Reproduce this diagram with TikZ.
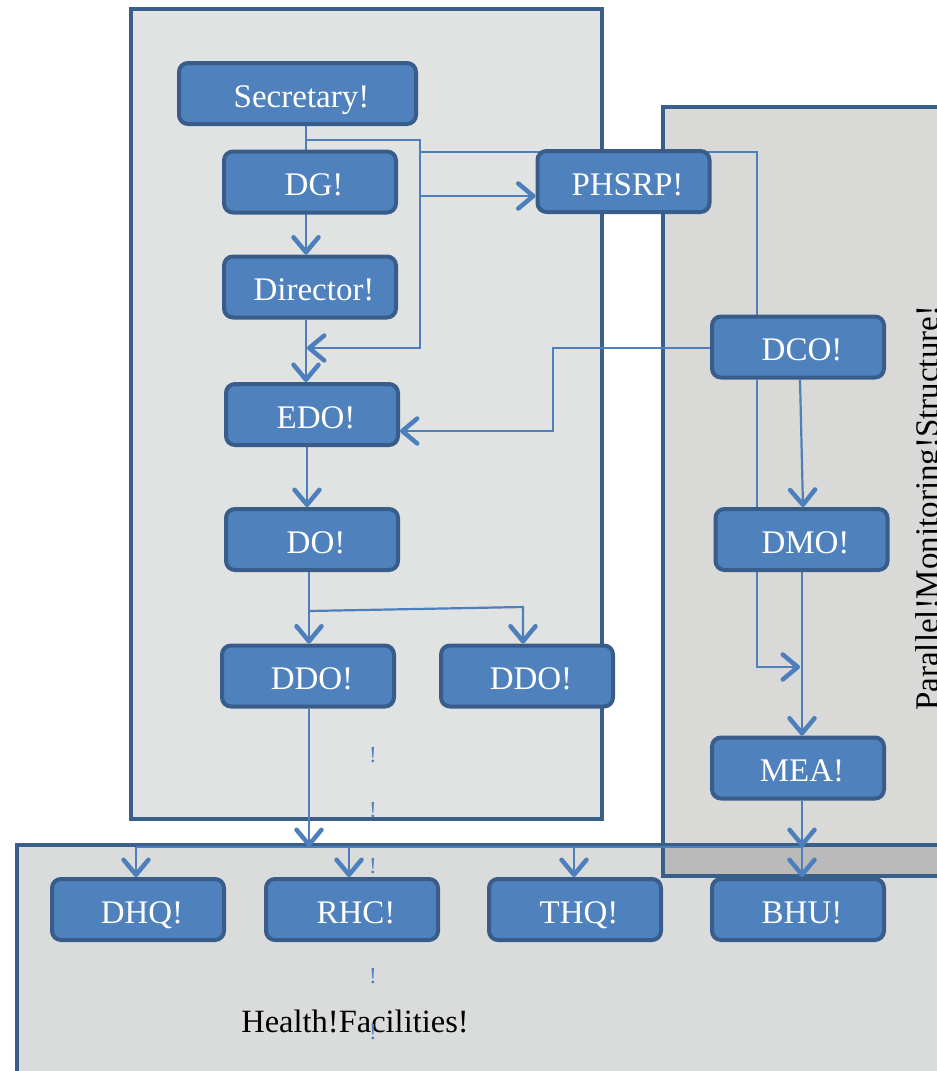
\documentclass[tikz,border=0pt]{standalone}
\usepackage{fontspec}
\setmainfont{Liberation Serif}
\usetikzlibrary{arrows.meta,calc}
\definecolor{nodef}{RGB}{79,129,189}
\definecolor{nodeb}{RGB}{56,93,138}
\definecolor{panelb}{RGB}{58,95,139}
\definecolor{leftf}{RGB}{225,227,227}
\definecolor{rightf}{RGB}{217,217,216}
\definecolor{botf}{RGB}{218,219,219}
\definecolor{overf}{RGB}{186,186,186}
\definecolor{conncol}{RGB}{76,127,188}
\pgfdeclarelayer{bg}
\pgfdeclarelayer{lines}
\pgfsetlayers{bg,lines,main}
\tikzset{
  box/.style={draw=nodeb, fill=nodef, line width=4pt, rounded corners=9pt,
    minimum width=172pt, minimum height=61pt, inner sep=0pt, text=white,
    font=\fontsize{33}{33}\selectfont, text height=27pt, text depth=0pt,
    execute at begin node={\hspace*{8pt}}},
  conn/.style={draw=conncol, line width=2.2pt},
  arr/.style={-{Straight Barb[length=15pt,width=25pt,line width=4.5pt,round]}},
  panel/.style={draw=panelb, line width=4pt},
  bang/.style={text=conncol, font=\fontsize{23}{23}\selectfont, inner sep=0pt},
}
\begin{document}
\begin{tikzpicture}[x=1pt,y=-1pt]
\useasboundingbox (0,0) rectangle (937,1071);
\clip (0,0) rectangle (937,1071);

% panels
\begin{pgfonlayer}{bg}
\fill[botf] (17,845) rectangle (960,1100);
\fill[rightf] (662.5,107) rectangle (960,876);
\fill[overf] (662.5,845) rectangle (960,876);
\draw[panel] (960,845) -- (17,845) -- (17,1100);
\draw[panel] (960,107) -- (662.5,107) -- (662.5,876) -- (960,876);
\filldraw[panel, fill=leftf] (131,8.5) rectangle (602,819);
\end{pgfonlayer}

% nodes
\node[box, minimum width=237pt] (sec) at (297.5,93.5) {Secretary!};
\node[box] (dg) at (310,182) {DG!};
\node[box] (dir) at (310,287) {Director!};
\node[box] (edo) at (312,414.5) {EDO!};
\node[box] (do) at (312,539.5) {DO!};
\node[box] (ddoa) at (308,676) {DDO!};
\node[box] (ddob) at (527,676) {DDO!};
\node[box] (phsrp) at (623.5,181.5) {PHSRP!};
\node[box] (dco) at (798,347) {DCO!};
\node[box] (dmo) at (801.5,539.5) {DMO!};
\node[box] (mea) at (798,768) {MEA!};
\node[box] (dhq) at (138,909.5) {DHQ!};
\node[box] (rhc) at (352,909.5) {RHC!};
\node[box] (thq) at (575,909.5) {THQ!};
\node[box] (bhu) at (798,909.5) {BHU!};

% junction coordinates
\coordinate (a1) at (306,140);
\coordinate (a2) at (420,140);
\coordinate (a3) at (420,348);
\coordinate (a4) at (307,348);
\coordinate (a5) at (420,196);
\coordinate (a6) at (420,152);
\coordinate (a7) at (757,152);
\coordinate (b1) at (309,611);
\coordinate (b2) at (523,607);
\coordinate (c1) at (136,847);
\coordinate (cR) at (349,847);
\coordinate (cT) at (574,847);
\coordinate (c2) at (802,847);
\coordinate (d1) at (553,348);
\coordinate (d2) at (553,431);
\coordinate (e1) at (757,667);
\coordinate (e2) at (800,667);

\begin{pgfonlayer}{lines}
\draw[conn,arr] (sec.south -| a1) -- (dir.north -| a1);
\draw[conn,arr] (a1) -- (a2) -- (a3) -- (a4);
\draw[conn,arr] (a5) -- (a5 -| phsrp.west);
\draw[conn] (a6) -- (a7) -- (a7 |- dco.north);
\draw[conn,arr] (dir.south -| a1) -- (edo.north -| a1);
\draw[conn,arr] (edo.south -| a4) -- (do.north -| a4);
\draw[conn] (do.south -| b1) -- (b1);
\draw[conn,arr] (b1) -- (ddoa.north -| b1);
\draw[conn,arr] (b1) -- (b2) -- (ddob.north -| b2);
\draw[conn,arr] (ddoa.south -| b1) -- (b1 |- c1);
\draw[conn] (c1) -- (c2);
\draw[conn,arr] (c1) -- (c1 |- dhq.north);
\draw[conn,arr] (cR) -- (cR |- rhc.north);
\draw[conn,arr] (cT) -- (cT |- thq.north);
\draw[conn,arr] (c2) -- (c2 |- bhu.north);
\draw[conn,arr] (mea.south -| c2) -- (c2);
\draw[conn,arr] (dco.west |- d1) -- (d1) -- (d2) -- (d2 -| edo.east);
\draw[conn,arr] ([xshift=2pt]dco.south) -- ([xshift=1.5pt]dmo.north);
\draw[conn,arr] (dco.south -| e1) -- (e1) -- (e2);
\draw[conn,arr] (dmo.south -| c2) -- (mea.north -| c2);
\end{pgfonlayer}

% texts
\node[bang] (m1) at (373,755) {!};
\node[bang] (m2) at (373,810) {!};
\node[bang] (m3) at (373,866) {!};
\node[bang] (m4) at (373,976) {!};
\node[font=\fontsize{32.5}{32.5}\selectfont, anchor=base, inner sep=0pt] (hf) at (355,1032) {Health!Facilities!};
\node[bang] (m5) at (373,1032) {!};
\node[font=\fontsize{33}{33}\selectfont, rotate=90, anchor=base west, inner sep=0pt] (pms) at (938,711) {Parallel!Monitoring!Structure!};
\end{tikzpicture}
\end{document}
